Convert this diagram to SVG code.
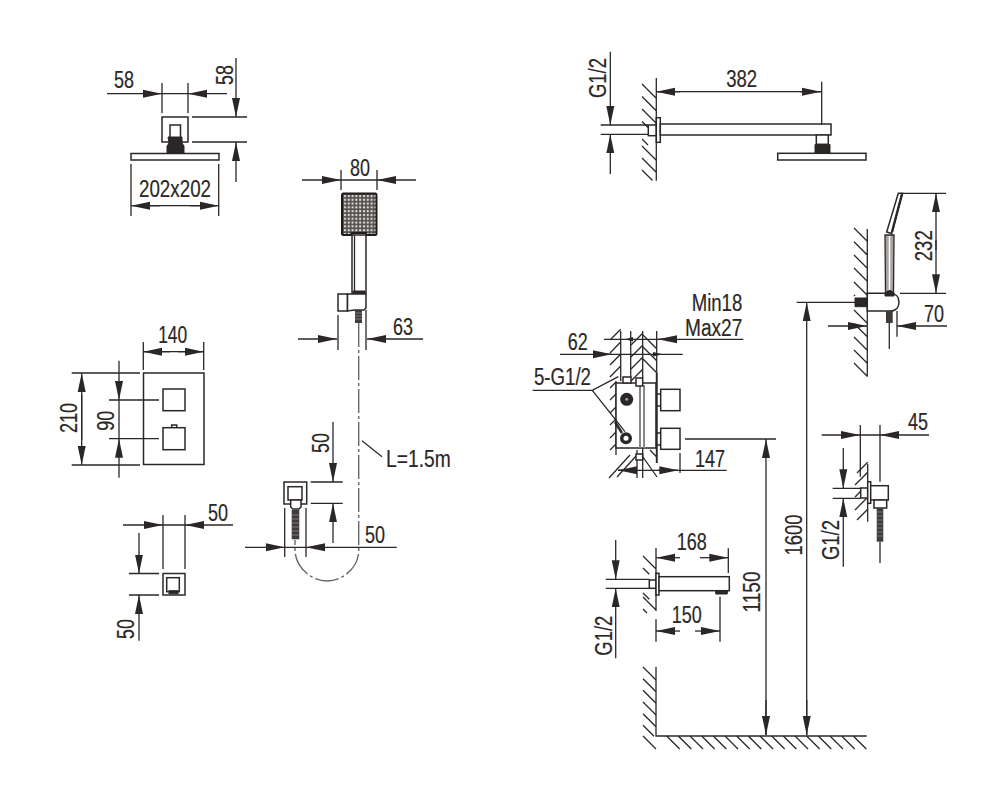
<svg xmlns="http://www.w3.org/2000/svg" width="1000" height="800" viewBox="0 0 1000 800">
<style>
.l{fill:none;stroke:#2b2726;stroke-width:1.3}
.o{fill:#fff;stroke:#2b2726;stroke-width:1.5}
.k{fill:#2b2726;stroke:#2b2726;stroke-width:1}
.a{fill:none;stroke:#2b2726;stroke-width:1.3;marker-end:url(#ah)}
.d{fill:none;stroke:#6b6663;stroke-width:1.4;stroke-dasharray:24 3 3 3}
.t{font-family:"Liberation Sans",Arial,sans-serif;font-size:23px;fill:#2b2726;stroke:#2b2726;stroke-width:.2;text-anchor:middle}
.e{text-anchor:end}
.s{text-anchor:start}
</style>
<defs>
<marker id="ah" markerUnits="userSpaceOnUse" markerWidth="20" markerHeight="10" refX="19" refY="5" orient="auto">
<path d="M0 1L19 5L0 9Z" fill="#2b2726"/>
</marker>
<pattern id="mesh" patternUnits="userSpaceOnUse" width="3.8" height="3.8" x="343" y="194">
<rect width="3.8" height="3.8" fill="#55514f"/>
<rect x="1" y="1" width="2" height="2" fill="#e6e4e2"/>
</pattern>
</defs>
<rect width="1000" height="800" fill="#fff"/>

<g id="head-top">
<rect class="o" x="162" y="117" width="26" height="25"/>
<path class="o" d="M170 137V125H180.500V137"/>
<path class="k" d="M168 137H182V143L184 146V153H167V146L169 143Z"/>
<rect class="o" x="131" y="153.500" width="88" height="6.500"/>
</g>
<g id="dim-head-top">
<path class="l" d="M162 83V113M188 83V113M162 93.700H188M192 117H247M192 142H247M131 164V216M218.700 164V216"/>
<path class="a" d="M107 93.700H162"/><path class="a" d="M227 93.700H188"/>
<path class="a" d="M236 58V117"/><path class="a" d="M236 182V142"/>
<path class="a" d="M160 205.700H131"/><path class="a" d="M190 205.700H218.700"/><path class="l" d="M150 205.700H200"/>
<text class="t" x="124" y="88" textLength="20" lengthAdjust="spacingAndGlyphs">58</text>
<text class="t" transform="rotate(-90 232.500 75)" x="232.500" y="75" textLength="20" lengthAdjust="spacingAndGlyphs">58</text>
<text class="t" x="175" y="196.700" textLength="72" lengthAdjust="spacingAndGlyphs">202x202</text>
</g>

<g id="hand-shower">
<path d="M343 193.500H375.500Q376.500 193.500 376.500 195V233.500Q376.500 235 375 235H366V233H352V235H343.500Q342 235 342 233.500V195Q342 193.500 343 193.500Z" fill="url(#mesh)" stroke="#1f1b1a" stroke-width="2"/>
<rect class="o" x="352" y="235" width="14" height="58"/>
<path class="l" d="M354.500 235V292" stroke-width="1.800"/>
<path class="k" d="M353 291H365V294L358 296L353 294Z"/>
<rect class="o" x="338" y="294" width="9.500" height="17"/>
<path class="o" d="M347.500 294H366V308L364 310H355L347.500 311Z"/>
<rect x="355" y="310" width="7" height="13" fill="#3f3b39"/>
<path d="M355 313h7M355 316h7M355 319h7" stroke="#aaa" stroke-width=".6"/>
</g>
<g id="dim-hand">
<path class="l" d="M341 170V190M377 170V190M341 180H377M338 315V350M366 310V350"/>
<path class="a" d="M302 180H341"/><path class="a" d="M416 180H377"/>
<path class="a" d="M298 339H337"/><path class="a" d="M423 339H367"/>
<text class="t" x="360" y="176" textLength="20" lengthAdjust="spacingAndGlyphs">80</text>
<text class="t" x="403" y="335" textLength="20" lengthAdjust="spacingAndGlyphs">63</text>
</g>

<g id="hose">
<path class="d" d="M358.700 323V551C358.700 566 344 581 327 581C310 581 295 566 295 550V540"/>
<path class="l" d="M362 440.700L382 456.700"/>
<text class="t s" x="386" y="467" textLength="64.700" lengthAdjust="spacingAndGlyphs">L=1.5m</text>
</g>

<g id="valve-plate">
<rect class="o" x="143.500" y="373" width="60.500" height="91.500"/>
<rect class="o" x="163" y="389" width="22" height="21.700"/>
<rect class="o" x="171.700" y="425" width="5" height="3"/>
<rect class="o" x="163" y="427.700" width="22" height="22"/>
</g>
<g id="dim-valve">
<path class="l" d="M143.300 342V370M203.700 342V370M143.300 351.700H203.700M71.700 373H140M71.700 465H140M109 400H159M109 438.700H159"/>
<path class="a" d="M170 351.700H143.300"/><path class="a" d="M178 351.700H203.700"/>
<path class="a" d="M81.700 440V373"/><path class="a" d="M81.700 395V465"/>
<path class="a" d="M119 360.700V400"/><path class="a" d="M119 477.700V438.700"/><path class="l" d="M119 400V438.700"/>
<text class="t" x="172.700" y="343.300" textLength="29" lengthAdjust="spacingAndGlyphs">140</text>
<text class="t" transform="rotate(-90 77 418)" x="77" y="418" textLength="30" lengthAdjust="spacingAndGlyphs">210</text>
<text class="t" transform="rotate(-90 114 420.700)" x="114" y="420.700" textLength="20" lengthAdjust="spacingAndGlyphs">90</text>
</g>

<g id="outlet-front">
<rect class="o" x="163" y="573.500" width="22" height="21.500"/>
<rect class="o" x="166.700" y="577.700" width="12.600" height="14"/>
<rect class="k" x="169" y="590.700" width="9" height="3" fill="#777"/>
</g>
<g id="dim-outlet">
<path class="l" d="M163 515V569M185 515V569M163 525H185M129 573.500H159M129 595H159"/>
<path class="a" d="M123 525H163"/><path class="a" d="M233 525H185"/>
<path class="a" d="M139 533V573.500"/><path class="a" d="M139 640.700V595"/>
<text class="t" x="218" y="521" textLength="20" lengthAdjust="spacingAndGlyphs">50</text>
<text class="t" transform="rotate(-90 134 629)" x="134" y="629" textLength="20" lengthAdjust="spacingAndGlyphs">50</text>
</g>

<g id="hose-outlet">
<rect class="o" x="284" y="482" width="22.700" height="22"/>
<rect class="o" x="288" y="486.700" width="14" height="13.300" stroke-width="1.800"/>
<path class="o" d="M290.700 500H301V507L299 509H292.700L290.700 507Z"/>
<rect x="291.700" y="510" width="7.600" height="29.300" fill="#3f3b39"/>
<path d="M291.700 515h7.600M291.700 519h7.600M291.700 523h7.600M291.700 527h7.600M291.700 531h7.600M291.700 535h7.600" stroke="#999" stroke-width=".7"/>
</g>
<g id="dim-hose-outlet">
<path class="l" d="M310.700 482H342.700M310.700 503.300H342.700M284.700 508V557M306 508V557M284.700 547.300H306"/>
<path class="a" d="M333 422V482"/><path class="a" d="M333 543V503.300"/>
<path class="a" d="M245 547.300H284.700"/><path class="a" d="M396.700 547.300H306"/>
<text class="t" transform="rotate(-90 329 443)" x="329" y="443" textLength="20" lengthAdjust="spacingAndGlyphs">50</text>
<text class="t" x="375" y="542.700" textLength="20" lengthAdjust="spacingAndGlyphs">50</text>
</g>

<g id="arm-side">
<path class="l" d="M656.300 78V180.700M642 84l14 14M642 96.500l14 14M642 109l14 14M642 121.500l6 6M642 139l6 6M642 146l14 14M642 158l14 14M642 170l10.500 10.500"/>
<path class="l" d="M600.700 125H648M600.700 134.300H648"/>
<rect class="o" x="648.300" y="125" width="8" height="10.700"/>
<rect class="o" x="656.300" y="117.700" width="4" height="24.600"/>
<rect class="o" x="660.300" y="124" width="170.700" height="11"/>
<rect class="o" x="816.300" y="135" width="12" height="9.300"/>
<path class="k" d="M815 144.500H830V153H815Z"/>
<rect class="o" x="777.700" y="153.300" width="88.300" height="6.700"/>
</g>
<g id="dim-arm">
<path class="l" d="M821.700 81.700V125M656.300 91.700H821"/>
<path class="a" d="M680 91.700H656.300"/><path class="a" d="M800 91.700H821"/>
<path class="a" d="M610.300 51.700V125"/><path class="a" d="M610.300 174V134.300"/>
<text class="t" x="741.700" y="86.700" textLength="31" lengthAdjust="spacingAndGlyphs">382</text>
<text class="t" transform="rotate(-90 605.700 78)" x="605.700" y="78" textLength="40" lengthAdjust="spacingAndGlyphs">G1/2</text>
</g>

<g id="hand-side">
<path class="l" d="M867.300 229V376.700M854 228l13 13M854 241.700l13 13M854 255l13 13M854 268l13 13M854 282l13 13M854 295l1 1M854 310l13 13M854 323.500l13 13M854 337l13 13M854 350l13 13M854 363l13 13"/>
<path class="o" d="M867.300 293.300H890C896 293.300 899 297 899 302C899 307 896 311 890 311H867.300Z"/>
<path class="k" d="M855 298H867V306.700H855Z" fill="#444"/>
<path d="M885 235H894L893.500 293H885.500Z" fill="#a8a4a2" stroke="#2b2726" stroke-width="1.300"/>
<path d="M889.500 236V292" stroke="#fff" stroke-width="1.500"/>
<path class="k" d="M885 293Q890 288 894 293V296H885Z" stroke-width=".5"/>
<path class="o" d="M886.700 232L898.300 193.300H902.300L891.700 233.500Z"/>
<path d="M892 232L902 194" stroke="#2b2726" stroke-width="2.400"/>
<rect x="886" y="311" width="6.700" height="12" fill="#3f3b39"/>
<path class="l" d="M889.300 323V349"/>
</g>
<g id="dim-hand-side">
<path class="l" d="M902 193.300H946M900 293.300H946M897 311V336.700M796.700 302.300H855"/>
<path class="a" d="M936 250V193.300"/><path class="a" d="M936 240V293.300"/>
<path class="a" d="M828 326H867"/><path class="a" d="M947 326H897"/>
<path class="a" d="M806.700 735V302.300"/><path class="a" d="M806.700 700V735"/>
<text class="t" transform="rotate(-90 802 535)" x="802" y="535" textLength="41" lengthAdjust="spacingAndGlyphs">1600</text>
<text class="t" transform="rotate(-90 931.700 245.700)" x="931.700" y="245.700" textLength="31" lengthAdjust="spacingAndGlyphs">232</text>
<text class="t" x="934" y="321.700" textLength="20" lengthAdjust="spacingAndGlyphs">70</text>
</g>

<g id="mixer">
<path class="l" d="M620.700 331V381M630.700 331V377M642.700 331V378M656.700 331V373M616 381V455M642.700 448V478M637 450V478M656.700 373V463"/>
<path class="l" d="M610 340l10.700-10.700M610 353l10.700-11M610 365l10.700-11M610 377l10.700-11M610 388l6-6M610 400l6-6M610 413l6-6M610 425l6-6M610 438l6-6M610 450l6-6M631 345l11.700-11.700M631 357l11.700-11.700M631 369l11.700-11.700M631 381l11.700-11.700M643 335l13.700 13.700M643 347l13.700 13.700M643 359l13.700 13.700M609 478L630 455M617 477L637 455M643 457L657 477M650 450L656.700 457"/>
<rect class="o" x="616" y="383" width="40" height="65"/>
<path d="M640 385V448M644 385V448" stroke="#8b8785" stroke-width="2" fill="none"/>
<path d="M656.700 373V463" stroke="#2b2726" stroke-width="1.800" fill="none"/>
<rect class="o" x="660.700" y="389.300" width="19.300" height="21.400"/>
<rect class="o" x="660.700" y="428.300" width="19.300" height="21"/>
<path class="o" d="M656.700 394H660.700M656.700 406H660.700M656.700 433H660.700M656.700 445H660.700"/>
<rect class="o" x="636" y="378" width="6.700" height="8"/>
<rect class="o" x="636" y="454" width="6.700" height="6"/>
<rect class="o" x="623" y="377" width="8" height="6"/>
<circle cx="626.700" cy="399.300" r="6.500" fill="#2b2726"/>
<circle cx="626.700" cy="399.300" r="1.500" fill="#999"/>
<circle cx="626" cy="438.300" r="6" fill="#2b2726"/>
<circle cx="626" cy="438.300" r="2.500" fill="#fff"/>
</g>
<g id="dim-mixer">
<path class="l" d="M604 339.300H743.300M560 354.300H682.700M532.700 390.300H592.300L618.300 376.700M592.300 390.300L625 431.700M680 453V473M618 470.300H726.700M685 439H776"/>
<path d="M615 422L622 433" stroke="#2b2726" stroke-width="2.500"/>
<path class="a" d="M676 339.300H658"/><path class="a" d="M596.700 354.300H611.700"/>
<path d="M625 339.300L633 337V341.600ZM662.700 354.300L653 352V356.600Z" fill="#2b2726"/>
<path class="a" d="M637 470.300H618"/><path class="a" d="M658 470.300H678.300"/>
<path class="a" d="M766 735V439"/><path class="a" d="M766 700V735"/>
<text class="t e" x="742.300" y="311" textLength="50.600" lengthAdjust="spacingAndGlyphs">Min18</text>
<text class="t e" x="742.300" y="335.700" textLength="57.300" lengthAdjust="spacingAndGlyphs">Max27</text>
<text class="t" x="577.700" y="350" textLength="20" lengthAdjust="spacingAndGlyphs">62</text>
<text class="t s" x="534" y="385" textLength="57" lengthAdjust="spacingAndGlyphs">5-G1/2</text>
<text class="t" x="710" y="466.700" textLength="30" lengthAdjust="spacingAndGlyphs">147</text>
<text class="t" transform="rotate(-90 760 592)" x="760" y="592" textLength="41" lengthAdjust="spacingAndGlyphs">1150</text>
</g>

<g id="outlet-side">
<path class="l" d="M867.700 464V521.700M857 473l10.700-10.700M855 485l12.700-12.700M855 497l5.700-5.700M855 510l12.700-12.700M857 520l10.700-10.700"/>
<path class="l" d="M832.700 488.300H860.700M832.700 498.300H860.700"/>
<rect class="o" x="860.700" y="488" width="7" height="10"/>
<rect class="o" x="867.700" y="481.700" width="3" height="21.600"/>
<rect class="o" x="870.700" y="485.700" width="17.600" height="14.300"/>
<path class="o" d="M874 500H886.700V508H874Z"/>
<rect x="876.700" y="508" width="6.600" height="33.700" fill="#3f3b39"/>
<path d="M876.700 512h6.600M876.700 516h6.600M876.700 520h6.600M876.700 524h6.600M876.700 528h6.600M876.700 532h6.600M876.700 536h6.600" stroke="#999" stroke-width=".6"/>
<path class="l" d="M880 541.700V563"/>
</g>
<g id="dim-outlet-side">
<path class="l" d="M860.300 425V476.700M880 425V481.700M860.300 435H880"/>
<path class="a" d="M821.700 435H860"/><path class="a" d="M929 435H880"/>
<path class="a" d="M843.300 448V488.300"/><path class="a" d="M843.300 566.700V498.300"/>
<text class="t" x="918" y="430" textLength="20" lengthAdjust="spacingAndGlyphs">45</text>
<text class="t" transform="rotate(-90 839 540)" x="839" y="540" textLength="40" lengthAdjust="spacingAndGlyphs">G1/2</text>
</g>

<g id="spout">
<path class="l" d="M656 548V611M643 556l13 13M643 568l6.300 6.300M643 593l6.300 6.300M643 597l13 13M643 609l4 4"/>
<path class="l" d="M605.700 579.300H649.300M605.700 588.300H649.300"/>
<rect class="o" x="649.300" y="580" width="6.700" height="8.300"/>
<rect class="o" x="656" y="573.300" width="3" height="21.700"/>
<rect class="o" x="659" y="576.700" width="70.300" height="14"/>
<path class="k" d="M715.700 590.700H727.300V594H715.700Z" fill="#777"/>
</g>
<g id="dim-spout">
<path class="l" d="M728.300 548.300V573M656 619.300V641.700M720 596.700V641.700"/>
<path class="a" d="M680 557.700H656"/><path class="a" d="M700 557.700H728.300"/>
<path class="a" d="M680 631H656"/><path class="a" d="M695 631H720"/>
<path class="a" d="M615.700 540V579.300"/><path class="a" d="M615.700 658.300V588.300"/>
<text class="t" x="691.700" y="550" textLength="30" lengthAdjust="spacingAndGlyphs">168</text>
<text class="t" x="686.700" y="623" textLength="30" lengthAdjust="spacingAndGlyphs">150</text>
<text class="t" transform="rotate(-90 611.700 635.700)" x="611.700" y="635.700" textLength="40" lengthAdjust="spacingAndGlyphs">G1/2</text>
</g>

<g id="floor">
<path class="l" d="M656 666.700V736H866.700" stroke-width="1.500"/>
<path class="l" d="M643 667l13 13M643 678.700l13 13M643 690.300l13 13M643 702l13 13M643 713.700l13 13M643 725.300l11 11M643 736l13 13M666.700 736l13 13M678.300 736l13 13M690 736l13 13M701.700 736l13 13M713.300 736l13 13M725 736l13 13M736.700 736l13 13M748.300 736l13 13M760 736l13 13M771.700 736l13 13M783.300 736l13 13M795 736l13 13M806.700 736l13 13M818.300 736l13 13M830 736l13 13M841.700 736l13 13M853.300 736l13 13"/>
</g>
</svg>
